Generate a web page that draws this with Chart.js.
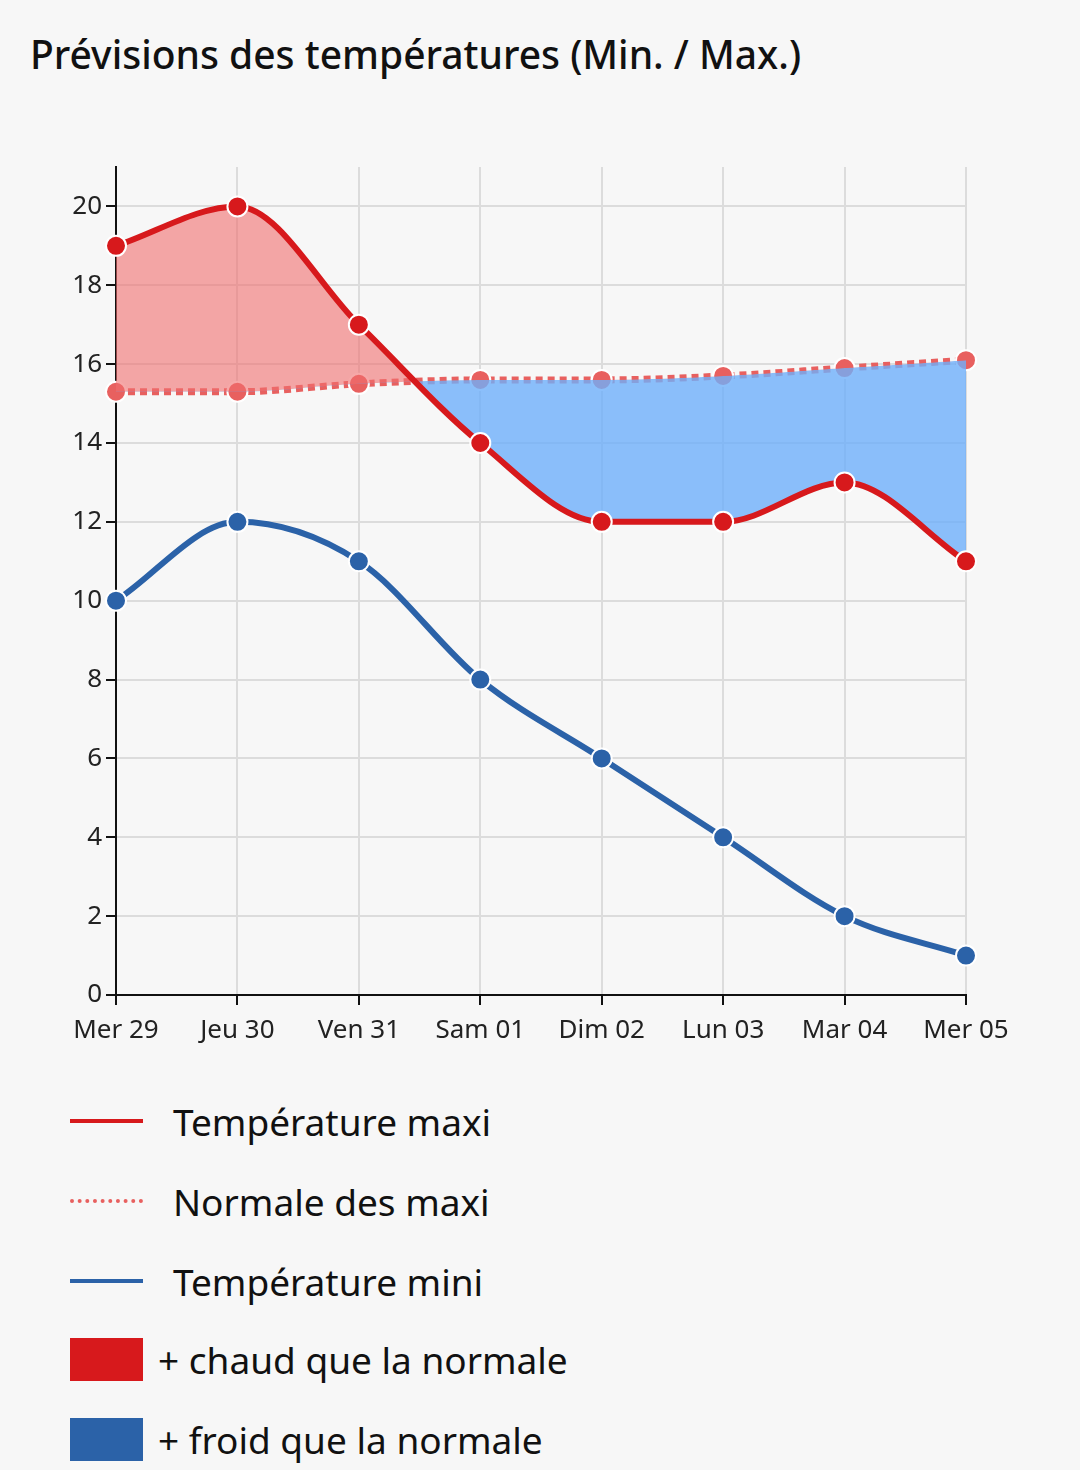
<!DOCTYPE html>
<html>
<head>
<meta charset="utf-8">
<script src="https://cdn.jsdelivr.net/npm/chart.js@4"></script>
<style>
  body { margin: 0; background: #f7f7f7; font-family: "Noto Sans", "Open Sans", sans-serif; width: 1080px; height: 1470px; position: relative; overflow: hidden; }
  h1 { position: absolute; left: 30px; top: 27px; margin: 0; font-size: 39px; font-weight: 500; color: #111; }
  #wrap { position: absolute; left: 0; top: 0; width: 1080px; height: 1060px; }
  .leg { position: absolute; left: 70px; font-size: 37px; color: #111; display: flex; align-items: center; }
  .line { width: 73px; height: 0; border-top: 4px solid; margin-right: 30px; }
  .box { width: 73px; height: 43px; margin-right: 15px; }
</style>
</head>
<body>
<h1>Prévisions des températures (Min. / Max.)</h1>
<div id="wrap"><canvas id="chart"></canvas></div>
<div id="legend"></div>
<script>
const days = ["Mer 29", "Jeu 30", "Ven 31", "Sam 01", "Dim 02", "Lun 03", "Mar 04", "Mer 05"];
const tempMax = [19, 20, 17, 14, 12, 12, 13, 11];
const normalMax = [15.3, 15.3, 15.5, 15.6, 15.6, 15.7, 15.9, 16.1];
const tempMin = [10, 12, 11, 8, 6, 4, 2, 1];

const red = '#d7191c';
const normalRed = '#e8605f';
const blue = '#2b62a8';

new Chart(document.getElementById('chart'), {
    type: 'line',
    data: {
        labels: days,
        datasets: [{
            label: 'Température maxi',
            data: tempMax,
            order: 1,
            borderColor: red,
            backgroundColor: red,
            borderWidth: 6,
            pointRadius: 10,
            pointBorderColor: '#fff',
            pointBorderWidth: 2,
            cubicInterpolationMode: 'monotone',
            fill: { target: 1, above: 'rgba(240,110,110,0.6)', below: 'rgba(110,175,250,0.8)' }
        }, {
            label: 'Normale des maxi',
            data: normalMax,
            order: 2,
            borderColor: normalRed,
            backgroundColor: normalRed,
            borderWidth: 7,
            borderDash: [7, 5],
            pointRadius: 10,
            pointBorderColor: '#fff',
            pointBorderWidth: 2,
            cubicInterpolationMode: 'monotone',
            fill: false
        }, {
            label: 'Température mini',
            data: tempMin,
            order: 0,
            borderColor: blue,
            backgroundColor: blue,
            borderWidth: 6,
            pointRadius: 10,
            pointBorderColor: '#fff',
            pointBorderWidth: 2,
            cubicInterpolationMode: 'monotone',
            fill: false
        }]
    },
    options: {
        responsive: true,
        maintainAspectRatio: false,
        animation: false,
        layout: { padding: { left: 0, right: 114, top: 167, bottom: 0 } },
        plugins: { legend: { display: false }, tooltip: { enabled: false } },
        scales: {
            x: {
                offset: false,
                afterFit(scale) { scale.height = 65; },
                grid: { color: '#dcdcdc', lineWidth: 2, tickLength: 10, tickColor: '#111' },
                border: { color: '#111', width: 2 },
                ticks: { color: '#222', font: { size: 26, family: 'Noto Sans' }, padding: 10, maxRotation: 0 }
            },
            y: {
                min: 0, max: 21,
                afterFit(scale) { scale.width = 116; },
                afterBuildTicks(scale) { scale.ticks = scale.ticks.filter(t => t.value % 2 === 0); },
                grid: { color: '#dcdcdc', lineWidth: 2, tickLength: 10, tickColor: '#111' },
                border: { color: '#111', width: 2 },
                ticks: { stepSize: 1, color: '#222', font: { size: 26, family: 'Noto Sans' }, padding: 4 }
            }
        }
    }
});

const legendItems = [
    { text: 'Température maxi', type: 'line', color: red, y: 1121 },
    { text: 'Normale des maxi', type: 'dash', color: normalRed, y: 1201 },
    { text: 'Température mini', type: 'line', color: blue, y: 1281 },
    { text: '+ chaud que la normale', type: 'box', color: red, y: 1359 },
    { text: '+ froid que la normale', type: 'box', color: blue, y: 1439 }
];
const legend = document.getElementById('legend');
legendItems.forEach(item => {
    const row = document.createElement('div');
    row.className = 'leg';
    row.style.top = (item.y - 25) + 'px';
    row.style.height = '50px';
    const mark = document.createElement('span');
    if (item.type === 'box') {
        mark.className = 'box';
        mark.style.background = item.color;
    } else {
        mark.className = 'line';
        mark.style.borderTopColor = item.color;
        if (item.type === 'dash') mark.style.borderTopStyle = 'dotted';
    }
    row.appendChild(mark);
    row.appendChild(document.createTextNode(item.text));
    legend.appendChild(row);
});
</script>
</body>
</html>
